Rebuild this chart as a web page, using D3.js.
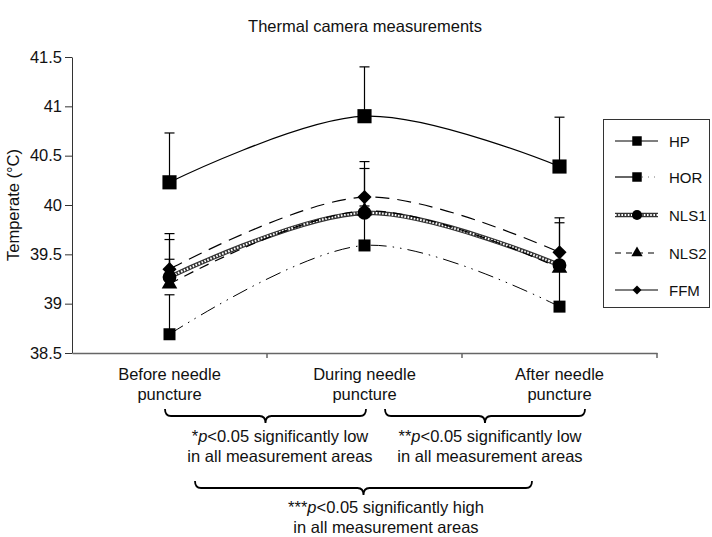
<!DOCTYPE html>
<html>
<head>
<meta charset="utf-8">
<script src="https://cdn.jsdelivr.net/npm/d3@7/dist/d3.min.js"></script>
<style>
  body { margin: 0; background: #fff; }
  svg { display: block; font-family: "Liberation Sans", Arial, sans-serif; }
</style>
</head>
<body>
<svg id="chart" width="712" height="537"></svg>
<script>
// ---- data ----
const categories = ["Before needle puncture", "During needle puncture", "After needle puncture"];
const categoryLines = [["Before needle", "puncture"], ["During needle", "puncture"], ["After needle", "puncture"]];
const seriesNames = ["HP", "HOR", "NLS1", "NLS2", "FFM"];
const hpValues   = [40.23, 40.90, 40.39];
const horValues  = [38.69, 39.59, 38.97];
const nls1Values = [39.27, 39.92, 39.39];
const nls2Values = [39.20, 39.94, 39.36];
const ffmValues  = [39.35, 40.08, 39.52];
const hpErr   = [0.50, 0.50, 0.50];
const horErr  = [0.40, 0.40, 0.40];
const nls1Err = [0.38, 0.45, 0.43];
const nls2Err = [0.25, 0.15, 0.15];
const ffmErr  = [0.36, 0.36, 0.35];
const yTicks = [38.5, 39, 39.5, 40, 40.5, 41, 41.5];
const title = "Thermal camera measurements";
const yTitle = "Temperate (°C)";

// ---- setup ----
const FS = 16.5;
const LFS = 15;
const svg = d3.select("#chart");
const plot = { left: 72, right: 657, top: 57, bottom: 353 };

const x = d3.scaleBand().domain(categories).range([plot.left, plot.right]);
const y = d3.scaleLinear().domain([38.5, 41.5]).range([plot.bottom, plot.top]);
const cx = c => x(c) + x.bandwidth() / 2;

const symbolRhomb = {
  draw(ctx, size) {
    const r = Math.sqrt(size / 2);
    ctx.moveTo(0, -r); ctx.lineTo(r, 0); ctx.lineTo(0, r); ctx.lineTo(-r, 0); ctx.closePath();
  }
};

const series = [
  { name: "HP",   values: hpValues,   err: hpErr,   symbol: d3.symbolSquare,   size: 200, legSize: 90, style: "solid" },
  { name: "HOR",  values: horValues,  err: horErr,  symbol: d3.symbolSquare,   size: 144, legSize: 90, style: "dashdotdot" },
  { name: "NLS1", values: nls1Values, err: nls1Err, symbol: d3.symbolCircle,   size: 150, legSize: 80, style: "pattern" },
  { name: "NLS2", values: nls2Values, err: nls2Err, symbol: d3.symbolTriangle, size: 105, legSize: 55, style: "dash" },
  { name: "FFM",  values: ffmValues,  err: ffmErr,  symbol: symbolRhomb,       size: 100, legSize: 40, style: "longdash" }
];

// title
svg.append("text").attr("x", 365).attr("y", 32).attr("text-anchor", "middle")
  .attr("font-size", FS).attr("fill", "#111").text(title);

// y axis
const yAxis = svg.append("g").attr("transform", `translate(${plot.left},0)`)
  .call(d3.axisLeft(y).tickValues(yTicks).tickSize(7).tickSizeOuter(0).tickPadding(3).tickFormat(d => String(d)));
yAxis.select(".domain").attr("stroke", "#333");
yAxis.selectAll(".tick line").attr("stroke", "#333");
yAxis.selectAll(".tick text").attr("font-size", FS).attr("fill", "#111")
  .attr("font-family", '"Liberation Sans", Arial, sans-serif');

// y title
svg.append("text").attr("transform", `translate(19,205) rotate(-90)`)
  .attr("text-anchor", "middle").attr("font-size", FS).attr("fill", "#111").text(yTitle);

// x axis
const xAxis = svg.append("g").attr("transform", `translate(0,${plot.bottom})`)
  .call(d3.axisBottom(x).tickSize(0).tickSizeOuter(0).tickFormat(""));
xAxis.select(".domain").attr("stroke", "#666").attr("stroke-width", 1.5);
svg.append("g").selectAll("line").data(categories).join("line")
  .attr("x1", d => x(d) + x.bandwidth()).attr("x2", d => x(d) + x.bandwidth())
  .attr("y1", plot.bottom).attr("y2", plot.bottom + 5)
  .attr("stroke", "#666").attr("stroke-width", 1.5);

// category labels
categories.forEach((c, i) => {
  const t = svg.append("text").attr("text-anchor", "middle").attr("font-size", FS).attr("fill", "#111");
  categoryLines[i].forEach((ln, j) => {
    t.append("tspan").attr("x", cx(c)).attr("y", 380 + j * 20).text(ln);
  });
});

// lines
const lineGen = (vals) => d3.line()
  .x((d, i) => cx(categories[i]))
  .y(d => y(d))
  .curve(d3.curveCardinal.tension(0))(vals);

const gLines = svg.append("g");
function drawStyled(g, pathD, style) {
  if (style === "solid") {
    g.append("path").attr("d", pathD).attr("fill", "none").attr("stroke", "#000").attr("stroke-width", 1.2);
  } else if (style === "dashdotdot") {
    g.append("path").attr("d", pathD).attr("fill", "none").attr("stroke", "#000").attr("stroke-width", 1)
      .attr("stroke-dasharray", "16,6,1.5,6,1.5,6");
  } else if (style === "pattern") {
    g.append("path").attr("d", pathD).attr("fill", "none").attr("stroke", "#333").attr("stroke-width", 4.5);
    g.append("path").attr("d", pathD).attr("fill", "none").attr("stroke", "#fff").attr("stroke-width", 2.2)
      .attr("stroke-dasharray", "1.6,1.6");
  } else if (style === "dash") {
    g.append("path").attr("d", pathD).attr("fill", "none").attr("stroke", "#000").attr("stroke-width", 1.2)
      .attr("stroke-dasharray", "10,7");
  } else if (style === "longdash") {
    g.append("path").attr("d", pathD).attr("fill", "none").attr("stroke", "#000").attr("stroke-width", 1.2)
      .attr("stroke-dasharray", "14,8");
  }
}
series.forEach(s => drawStyled(gLines, lineGen(s.values), s.style));

// error bars (upper only)
const gErr = svg.append("g").attr("stroke", "#000").attr("stroke-width", 1.2);
series.forEach(s => {
  s.values.forEach((v, i) => {
    const px = cx(categories[i]);
    gErr.append("line").attr("x1", px).attr("x2", px).attr("y1", y(v)).attr("y2", y(v + s.err[i]));
    gErr.append("line").attr("x1", px - 5).attr("x2", px + 5).attr("y1", y(v + s.err[i])).attr("y2", y(v + s.err[i]));
  });
});

// markers
const gMarks = svg.append("g");
series.forEach(s => {
  gMarks.selectAll(null).data(s.values).join("path")
    .attr("transform", (d, i) => `translate(${cx(categories[i])},${y(d)})`)
    .attr("d", d3.symbol(s.symbol, s.size)())
    .attr("fill", "#000");
});

// legend
const leg = svg.append("g");
leg.append("rect").attr("x", 603.5).attr("y", 119.5).attr("width", 106).attr("height", 188)
  .attr("fill", "#fff").attr("stroke", "#333").attr("stroke-width", 1);
const legRowY = [141, 177, 215, 253, 290];
series.forEach((s, i) => {
  const ly = legRowY[i];
  const g = leg.append("g");
  if (s.style === "dashdotdot") {
    g.append("path").attr("d", `M615,${ly}H637`).attr("stroke", "#000").attr("stroke-width", 1.2);
    g.append("path").attr("d", `M642,${ly}H659`).attr("stroke", "#777").attr("stroke-width", 1).attr("stroke-dasharray", "1,5");
  } else if (s.style === "longdash") {
    drawStyled(g, `M615,${ly}H658`, "solid");
  } else if (s.style === "dash") {
    g.append("path").attr("d", `M615,${ly}H658`).attr("stroke", "#000").attr("stroke-width", 1.2).attr("stroke-dasharray", "6,5");
  } else {
    drawStyled(g, `M615,${ly}H658`, s.style);
  }
  g.append("path").attr("transform", `translate(637,${ly})`).attr("d", d3.symbol(s.symbol, s.legSize)()).attr("fill", "#000");
  g.append("text").attr("x", 669).attr("y", ly + 5.5).attr("font-size", LFS).attr("fill", "#111").text(s.name);
});

// braces annotations
function brace(x1, x2, yTop, depth) {
  const xm = (x1 + x2) / 2, y1 = yTop + depth, y2 = yTop + depth * 2, r = 6;
  return `M${x1},${yTop} Q${x1},${y1} ${x1 + r},${y1} L${xm - r},${y1} Q${xm},${y1} ${xm},${y2} ` +
         `Q${xm},${y1} ${xm + r},${y1} L${x2 - r},${y1} Q${x2},${y1} ${x2},${yTop}`;
}
const gB = svg.append("g").attr("fill", "none").attr("stroke", "#000").attr("stroke-width", 1.8);
gB.append("path").attr("d", brace(165, 366, 409, 7));
gB.append("path").attr("d", brace(385, 585, 409, 7));
gB.append("path").attr("d", brace(195, 532, 481, 7));

function note(xc, yb, stars, line1rest, line2) {
  const t = svg.append("text").attr("text-anchor", "middle").attr("font-size", FS).attr("fill", "#111");
  const t1 = t.append("tspan").attr("x", xc).attr("y", yb);
  t1.append("tspan").text(stars);
  t1.append("tspan").attr("font-style", "italic").text("p");
  t1.append("tspan").text(line1rest);
  t.append("tspan").attr("x", xc).attr("y", yb + 20).text(line2);
}
note(280, 442, "*", "<0.05 significantly low", "in all measurement areas");
note(490, 442, "**", "<0.05 significantly low", "in all measurement areas");
note(386, 513, "***", "<0.05 significantly high", "in all measurement areas");
</script>
</body>
</html>
